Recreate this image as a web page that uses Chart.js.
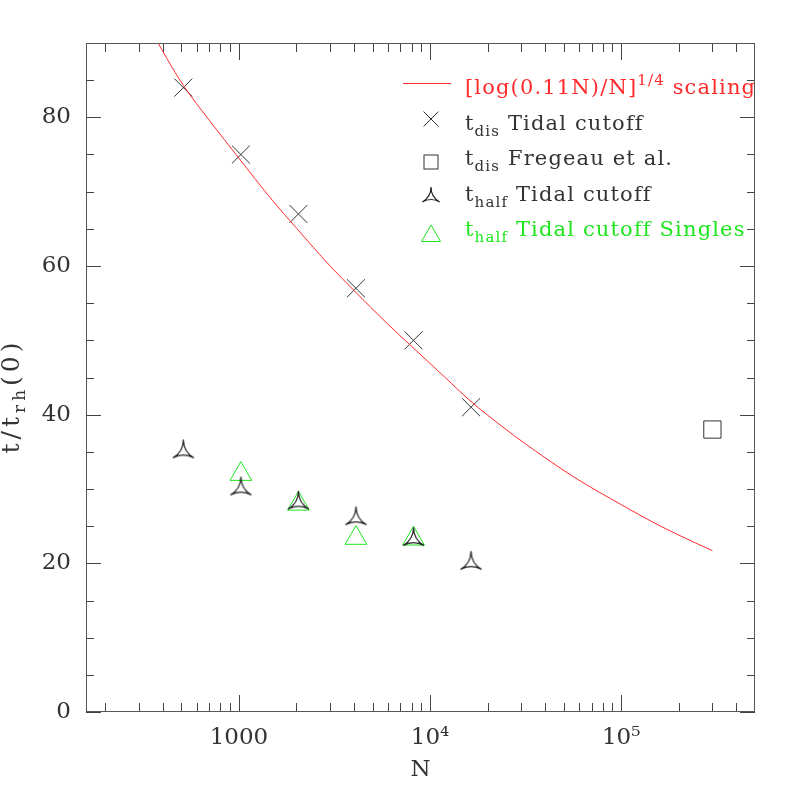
<!DOCTYPE html>
<html>
<head>
<meta charset="utf-8">
<script src="https://cdn.jsdelivr.net/npm/chart.js@4.4.1/dist/chart.umd.min.js"></script>
<style>
  html, body { margin: 0; padding: 0; background: #fff; }
  canvas { display: block; }
</style>
</head>
<body>
<canvas id="cluster" width="797" height="797"></canvas>
<script>
// Data
const nTidal = [512, 1024, 2048, 4096, 8192, 16384]
const tDisTidal = [84, 75, 67, 57, 50, 41]
const tHalfTidal = [35, 30, 28.1, 26, 23.2, 20]
const nSingles = [1024, 2048, 4096, 8192]
const tHalfSingles = [32, 28, 23.4, 23.3]
const nFregeau = [300000]
const tDisFregeau = [38]
// red scaling curve, sampled along the drawn line
const nScaling = [378, 420, 512, 700, 1000, 1500, 2000, 3000, 4000, 6000, 8000, 12000, 16000, 25000, 40000, 60000, 100000, 150000, 200000, 300000]
const tScaling = [90, 87.9, 84.3, 79.6, 74.5, 68.8, 65.1, 60.0, 56.7, 52.2, 49.2, 45.0, 42.0, 38.0, 34.2, 31.2, 27.9, 25.4, 23.8, 21.7]

// Axes
const xMajorTicks = [1000, 10000, 100000]
const xTickLabels = ['1000', '10\u2074', '10\u2075']
const xMinorTicks = [200, 300, 400, 500, 600, 700, 800, 900,
    2000, 3000, 4000, 5000, 6000, 7000, 8000, 9000,
    20000, 30000, 40000, 50000, 60000, 70000, 80000, 90000,
    200000, 300000, 400000]
const yMajorTicks = [0, 20, 40, 60, 80]
const yMinorTicks = [5, 10, 15, 25, 30, 35, 45, 50, 55, 65, 70, 75, 85]

// legend text: [piece, 0 = normal / 1 = subscript / -1 = superscript]
const legendRows = [
    [['[log(0.11N)/N]', 0], ['1/4', -1], [' scaling', 0]],
    [['t', 0], ['dis', 1], [' Tidal cutoff', 0]],
    [['t', 0], ['dis', 1], [' Fregeau et al.', 0]],
    [['t', 0], ['half', 1], [' Tidal cutoff', 0]],
    [['t', 0], ['half', 1], [' Tidal cutoff Singles', 0]]
]

const FONT = '"DejaVu Serif", serif'
const INK = '#333'
const RED = '#ff2a2a'
const GREEN = '#1ee61e'

const pts = (xs, ys) => xs.map((x, i) => ({ x: x, y: ys[i] }))

// three-cusped marker (concave triangle)
const makeCusp = (r) => {
    let s = Math.ceil(2 * r + 4)
    let c = document.createElement('canvas')
    c.width = s
    c.height = s
    let g = c.getContext('2d')
    let cx = s / 2, cy = s / 2
    let v = [-90, 30, 150].map((a) => [cx + r * Math.cos(a * Math.PI / 180), cy + r * Math.sin(a * Math.PI / 180)])
    g.beginPath()
    g.moveTo(v[0][0], v[0][1])
    for (let i = 0; i < 3; i++) {
        let n = v[(i + 1) % 3]
        g.quadraticCurveTo(cx, cy, n[0], n[1])
    }
    g.closePath()
    g.strokeStyle = '#222'
    g.lineWidth = 1.2
    g.stroke()
    return c
}
const cuspBig = makeCusp(12.2)
const cuspSmall = makeCusp(10)

// text drawn char by char so the wide spacing of the original can be kept
const spaced = (ctx, t, x, y, gap) => {
    for (const ch of t) {
        ctx.fillText(ch, x, y)
        x += ctx.measureText(ch).width + gap
    }
    return x
}
const richWidth = (ctx, parts, big, small, gap) => {
    let w = 0
    parts.forEach(([t, kind]) => {
        ctx.font = `${kind === 0 ? big : small}px ${FONT}`
        for (const ch of t) w += ctx.measureText(ch).width + gap
    })
    return w
}
const drawRich = (ctx, x, y, parts, big, small, gap) => {
    parts.forEach(([t, kind]) => {
        let size = kind === 0 ? big : small
        let dy = kind === 0 ? 0 : (kind > 0 ? 6 : -9)
        ctx.font = `${size}px ${FONT}`
        x = spaced(ctx, t, x, y + dy, gap)
    })
    return x
}

const frameAndExtras = {
    id: 'frameAndExtras',
    afterDraw(chart) {
        const { ctx, chartArea: a, scales } = chart
        ctx.save()
        // inward ticks on all four sides
        ctx.lineWidth = 1
        ctx.strokeStyle = '#444'
        const xt = (v, len) => {
            let px = Math.round(scales.x.getPixelForValue(v)) + 0.5
            ctx.beginPath()
            ctx.moveTo(px, a.bottom); ctx.lineTo(px, a.bottom - len)
            ctx.moveTo(px, a.top); ctx.lineTo(px, a.top + len)
            ctx.stroke()
        }
        const yt = (v, len) => {
            let py = Math.round(scales.y.getPixelForValue(v)) + 0.5
            ctx.beginPath()
            ctx.moveTo(a.left, py); ctx.lineTo(a.left + len, py)
            ctx.moveTo(a.right, py); ctx.lineTo(a.right - len, py)
            ctx.stroke()
        }
        xMajorTicks.forEach((v) => xt(v, 17))
        xMinorTicks.forEach((v) => xt(v, 9))
        yMajorTicks.forEach((v) => yt(v, 15))
        yMinorTicks.forEach((v) => yt(v, 8))
        ctx.strokeStyle = '#555'
        ctx.strokeRect(a.left + 0.5, a.top + 0.5, a.right - a.left - 1, a.bottom - a.top - 1)

        // axis titles
        ctx.fillStyle = INK
        ctx.textBaseline = 'alphabetic'
        ctx.font = `23px ${FONT}`
        ctx.textAlign = 'center'
        ctx.fillText('N', (a.left + a.right) / 2, 776)
        ctx.textAlign = 'left'
        ctx.save()
        ctx.translate(19, 396)
        ctx.rotate(-Math.PI / 2)
        const yTitle = [['t/t', 0], ['rh', 1], ['(0)', 0]]
        let w = richWidth(ctx, yTitle, 25, 17, 4)
        drawRich(ctx, -w / 2, 0, yTitle, 25, 17, 4)
        ctx.restore()

        // legend
        const lx = 465, mx = 431
        const baselines = [94, 129.5, 165, 200.5, 236]
        ctx.strokeStyle = RED
        ctx.beginPath()
        ctx.moveTo(403, 83.5); ctx.lineTo(451, 83.5)
        ctx.stroke()
        ctx.strokeStyle = INK
        ctx.beginPath()
        let d = 10.5 * Math.SQRT1_2
        ctx.moveTo(mx - d, 119 - d); ctx.lineTo(mx + d, 119 + d)
        ctx.moveTo(mx - d, 119 + d); ctx.lineTo(mx + d, 119 - d)
        ctx.stroke()
        ctx.strokeRect(mx - 7, 155, 14, 14)
        ctx.drawImage(cuspSmall, mx - cuspSmall.width / 2, 197 - cuspSmall.height / 2)
        ctx.strokeStyle = GREEN
        let r = 11
        ctx.beginPath()
        ctx.moveTo(mx, 236 - r)
        ctx.lineTo(mx + r * Math.cos(Math.PI / 6), 236 + r / 2)
        ctx.lineTo(mx - r * Math.cos(Math.PI / 6), 236 + r / 2)
        ctx.closePath()
        ctx.stroke()
        legendRows.forEach((row, i) => {
            ctx.fillStyle = i === 0 ? RED : (i === 4 ? GREEN : INK)
            drawRich(ctx, lx, baselines[i], row, 21, 15, 1.15)
        })
        ctx.restore()
    }
}

const cluster = new Chart(document.getElementById('cluster'), {
    data: {
        datasets: [
            {
                type: 'line',
                data: pts(nScaling, tScaling),
                borderColor: RED,
                borderWidth: 1,
                pointRadius: 0,
                cubicInterpolationMode: 'monotone',
                fill: false
            },
            {
                type: 'scatter',
                data: pts(nTidal, tDisTidal),
                pointStyle: 'crossRot',
                pointRadius: 12.7,
                pointBorderColor: INK,
                pointBorderWidth: 1
            },
            {
                type: 'scatter',
                data: pts(nFregeau, tDisFregeau),
                pointStyle: 'rect',
                pointRadius: 12.2,
                pointBorderColor: INK,
                pointBackgroundColor: 'rgba(0,0,0,0)',
                pointBorderWidth: 1
            },
            {
                type: 'scatter',
                data: pts(nTidal, tHalfTidal),
                pointStyle: cuspBig,
                pointRadius: 12
            },
            {
                type: 'scatter',
                data: pts(nSingles, tHalfSingles),
                pointStyle: 'triangle',
                pointRadius: 12.5,
                pointBorderColor: GREEN,
                pointBackgroundColor: 'rgba(0,0,0,0)',
                pointBorderWidth: 1
            }
        ]
    },
    options: {
        responsive: false,
        animation: false,
        events: [],
        layout: { padding: { left: 0, top: 43, right: 42, bottom: 0 } },
        plugins: { legend: { display: false }, tooltip: { enabled: false } },
        scales: {
            x: {
                type: 'logarithmic',
                position: 'bottom',
                min: Math.pow(10, 2.2),
                max: Math.pow(10, 5.7),
                grid: { display: false, drawTicks: false },
                border: { display: false },
                afterBuildTicks: (scale) => {
                    scale.ticks = xMajorTicks.map((v) => ({ value: v }))
                },
                afterFit: (scale) => { scale.height = 85 },
                ticks: {
                    autoSkip: false,
                    maxRotation: 0,
                    padding: 12,
                    color: INK,
                    font: { family: FONT, size: 23 },
                    callback: (v) => xTickLabels[xMajorTicks.indexOf(v)]
                }
            },
            y: {
                type: 'linear',
                position: 'left',
                min: 0,
                max: 90,
                grid: { display: false, drawTicks: false },
                border: { display: false },
                afterBuildTicks: (scale) => {
                    scale.ticks = yMajorTicks.map((v) => ({ value: v }))
                },
                afterFit: (scale) => { scale.width = 86 },
                ticks: {
                    padding: 15,
                    color: INK,
                    font: { family: FONT, size: 23 }
                }
            }
        }
    },
    plugins: [frameAndExtras]
})
</script>
</body>
</html>
